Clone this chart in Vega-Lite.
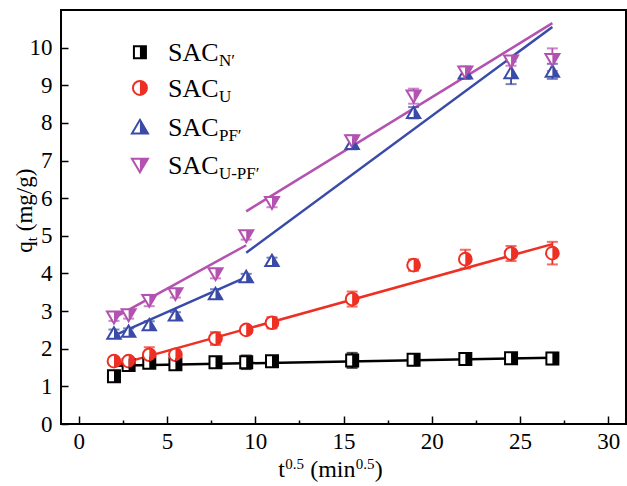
{
  "$schema": "https://vega.github.io/schema/vega-lite/v6.json",
  "width": 565,
  "height": 414,
  "autosize": {"type": "none"},
  "padding": {"left": 61, "top": 10, "right": 1, "bottom": 62},
  "background": "white",
  "config": {
    "view": {"stroke": "black", "strokeWidth": 2},
    "axis": {
      "domain": false,
      "grid": false,
      "labelFont": "Liberation Serif",
      "labelFontSize": 23,
      "labelColor": "black",
      "tickColor": "black",
      "tickWidth": 1.5
    }
  },
  "datasets": {
    "pts": [
      {"s": "N", "x": 2, "q": 1.27, "e": 0.06},
      {"s": "N", "x": 2.83, "q": 1.57, "e": 0.08},
      {"s": "N", "x": 4, "q": 1.63, "e": 0.08},
      {"s": "N", "x": 5.48, "q": 1.59, "e": 0.08},
      {"s": "N", "x": 7.75, "q": 1.64, "e": 0.08},
      {"s": "N", "x": 9.49, "q": 1.64, "e": 0.18},
      {"s": "N", "x": 10.95, "q": 1.67, "e": 0.1},
      {"s": "N", "x": 15.49, "q": 1.69, "e": 0.2},
      {"s": "N", "x": 18.97, "q": 1.71, "e": 0.15},
      {"s": "N", "x": 21.9, "q": 1.73, "e": 0.12},
      {"s": "N", "x": 24.49, "q": 1.75, "e": 0.1},
      {"s": "N", "x": 26.83, "q": 1.74, "e": 0.15},
      {"s": "U", "x": 2, "q": 1.67, "e": 0.1},
      {"s": "U", "x": 2.83, "q": 1.67, "e": 0.08},
      {"s": "U", "x": 4, "q": 1.84, "e": 0.2},
      {"s": "U", "x": 5.48, "q": 1.84, "e": 0.12},
      {"s": "U", "x": 7.75, "q": 2.27, "e": 0.17},
      {"s": "U", "x": 9.49, "q": 2.5, "e": 0.1},
      {"s": "U", "x": 10.95, "q": 2.69, "e": 0.15},
      {"s": "U", "x": 15.49, "q": 3.32, "e": 0.2},
      {"s": "U", "x": 18.97, "q": 4.22, "e": 0.15},
      {"s": "U", "x": 21.9, "q": 4.38, "e": 0.25},
      {"s": "U", "x": 24.49, "q": 4.53, "e": 0.2},
      {"s": "U", "x": 26.83, "q": 4.54, "e": 0.3},
      {"s": "PF", "x": 2, "q": 2.41, "e": 0.1},
      {"s": "PF", "x": 2.83, "q": 2.46, "e": 0.08},
      {"s": "PF", "x": 4, "q": 2.63, "e": 0.1},
      {"s": "PF", "x": 5.48, "q": 2.89, "e": 0.08},
      {"s": "PF", "x": 7.75, "q": 3.46, "e": 0.12},
      {"s": "PF", "x": 9.49, "q": 3.91, "e": 0.08},
      {"s": "PF", "x": 10.95, "q": 4.34, "e": 0.08},
      {"s": "PF", "x": 15.49, "q": 7.45, "e": 0.15},
      {"s": "PF", "x": 18.97, "q": 8.27, "e": 0.15},
      {"s": "PF", "x": 21.9, "q": 9.32, "e": 0.15},
      {"s": "PF", "x": 24.49, "q": 9.33, "e": 0.3},
      {"s": "PF", "x": 26.83, "q": 9.37, "e": 0.2},
      {"s": "UPF", "x": 2, "q": 2.84, "e": 0.1},
      {"s": "UPF", "x": 2.83, "q": 2.9, "e": 0.1},
      {"s": "UPF", "x": 4, "q": 3.28, "e": 0.15},
      {"s": "UPF", "x": 5.48, "q": 3.46, "e": 0.1},
      {"s": "UPF", "x": 7.75, "q": 3.99, "e": 0.12},
      {"s": "UPF", "x": 9.49, "q": 5.0, "e": 0.1},
      {"s": "UPF", "x": 10.95, "q": 5.88, "e": 0.12},
      {"s": "UPF", "x": 15.49, "q": 7.52, "e": 0.15},
      {"s": "UPF", "x": 18.97, "q": 8.71, "e": 0.2},
      {"s": "UPF", "x": 21.9, "q": 9.35, "e": 0.15},
      {"s": "UPF", "x": 24.49, "q": 9.64, "e": 0.12},
      {"s": "UPF", "x": 26.83, "q": 9.68, "e": 0.3}
    ],
    "fits": [
      {"s": "N", "seg": "N1", "x": 2, "q": 1.55},
      {"s": "N", "seg": "N1", "x": 26.83, "q": 1.76},
      {"s": "U", "seg": "U1", "x": 2, "q": 1.55},
      {"s": "U", "seg": "U1", "x": 26.83, "q": 4.78},
      {"s": "PF", "seg": "P1", "x": 2, "q": 2.35},
      {"s": "PF", "seg": "P1", "x": 9.49, "q": 3.9},
      {"s": "PF", "seg": "P2", "x": 9.49, "q": 4.55},
      {"s": "PF", "seg": "P2", "x": 26.83, "q": 10.55},
      {"s": "UPF", "seg": "Q1", "x": 2, "q": 2.82},
      {"s": "UPF", "seg": "Q1", "x": 9.49, "q": 4.75},
      {"s": "UPF", "seg": "Q2", "x": 9.49, "q": 5.65},
      {"s": "UPF", "seg": "Q2", "x": 26.83, "q": 10.65}
    ]
  },
  "resolve": {"scale": {"shape": "independent"}},
  "layer": [
    {
      "data": {"name": "fits"},
      "mark": {"type": "line", "strokeWidth": 2.5},
      "encoding": {
        "x": {
          "field": "x", "type": "quantitative",
          "scale": {"domain": [-1, 31], "nice": false, "zero": false},
          "axis": {
            "title": null,
            "values": [0, 2.5, 5, 7.5, 10, 12.5, 15, 17.5, 20, 22.5, 25, 27.5, 30],
            "labelExpr": "datum.value % 5 === 0 ? datum.label : ''",
            "tickSize": {"condition": {"test": "datum.value % 5 === 0", "value": -8}, "value": -4},
            "labelPadding": 14
          }
        },
        "y": {
          "field": "q", "type": "quantitative",
          "scale": {"domain": [0, 11], "nice": false, "zero": false},
          "axis": {
            "title": null,
            "values": [0, 0.5, 1, 1.5, 2, 2.5, 3, 3.5, 4, 4.5, 5, 5.5, 6, 6.5, 7, 7.5, 8, 8.5, 9, 9.5, 10, 10.5],
            "labelExpr": "datum.value % 1 === 0 ? datum.label : ''",
            "tickSize": {"condition": {"test": "datum.value % 1 === 0", "value": -7}, "value": -4},
            "labelPadding": 16
          }
        },
        "color": {"field": "s", "type": "nominal", "scale": {"domain": ["N", "U", "PF", "UPF"], "range": ["#000000", "#EE3024", "#3A4AA8", "#B352B0"]}, "legend": null},
        "detail": {"field": "seg"}
      }
    },
    {
      "data": {"name": "pts"},
      "mark": {"type": "errorbar", "ticks": {"size": 11, "thickness": 2}, "rule": {"strokeWidth": 1.8}},
      "encoding": {
        "x": {"field": "x", "type": "quantitative"},
        "y": {"field": "q", "type": "quantitative"},
        "yError": {"field": "e"},
        "color": {"field": "s", "type": "nominal", "legend": null}
      }
    },
    {
      "data": {"name": "pts"},
      "mark": {"type": "point", "filled": false, "fill": "white", "opacity": 1, "strokeWidth": 2},
      "encoding": {
        "x": {"field": "x", "type": "quantitative"},
        "y": {"field": "q", "type": "quantitative"},
        "stroke": {"field": "s", "type": "nominal", "scale": {"domain": ["N", "U", "PF", "UPF"], "range": ["#000000", "#EE3024", "#3A4AA8", "#B352B0"]}, "legend": null},
        "shape": {"field": "s", "type": "nominal", "scale": {"domain": ["N", "U", "PF", "UPF"], "range": ["M-1,-1H1V1H-1Z", "M1,0A1,1,0,1,1,-1,0A1,1,0,1,1,1,0Z", "M0,-0.9L1,0.8L-1,0.8Z", "M0,0.9L1,-0.8L-1,-0.8Z"]}, "legend": null},
        "size": {"field": "s", "type": "nominal", "scale": {"domain": ["N", "U", "PF", "UPF"], "range": [144, 196, 256, 256]}, "legend": null}
      }
    },
    {
      "data": {"name": "pts"},
      "mark": {"type": "point", "filled": true, "opacity": 1, "strokeWidth": 0},
      "encoding": {
        "x": {"field": "x", "type": "quantitative"},
        "y": {"field": "q", "type": "quantitative"},
        "color": {"field": "s", "type": "nominal", "legend": null},
        "shape": {"field": "s", "type": "nominal", "scale": {"domain": ["N", "U", "PF", "UPF"], "range": ["M0,-1H1V1H0Z", "M0,-1A1,1,0,0,1,0,1Z", "M0,-0.9L1,0.8L0,0.8Z", "M0,0.9L1,-0.8L0,-0.8Z"]}, "legend": null},
        "size": {"field": "s", "type": "nominal", "legend": null}
      }
    },
    {
      "data": {"values": [{}]},
      "encoding": {"x": {"datum": 3.47, "type": "quantitative"}, "y": {"datum": 9.88, "type": "quantitative"}},
      "layer": [
        {"mark": {"type": "point", "shape": "M-1,-1H1V1H-1Z", "size": 144, "filled": false, "fill": "white", "stroke": "#000000", "strokeWidth": 2, "opacity": 1}},
        {"mark": {"type": "point", "shape": "M0,-1H1V1H0Z", "size": 144, "filled": true, "color": "#000000", "strokeWidth": 0, "opacity": 1}},
        {"mark": {"type": "text", "text": "SAC", "align": "left", "baseline": "alphabetic", "dx": 28, "dy": 9, "font": "Liberation Serif", "fontSize": 26, "color": "black"}},
        {"mark": {"type": "text", "text": "N′", "align": "left", "baseline": "alphabetic", "dx": 79, "dy": 14, "font": "Liberation Serif", "fontSize": 17, "color": "black"}}
      ]
    },
    {
      "data": {"values": [{}]},
      "encoding": {"x": {"datum": 3.47, "type": "quantitative"}, "y": {"datum": 8.93, "type": "quantitative"}},
      "layer": [
        {"mark": {"type": "point", "shape": "M1,0A1,1,0,1,1,-1,0A1,1,0,1,1,1,0Z", "size": 196, "filled": false, "fill": "white", "stroke": "#EE3024", "strokeWidth": 2, "opacity": 1}},
        {"mark": {"type": "point", "shape": "M0,-1A1,1,0,0,1,0,1Z", "size": 196, "filled": true, "color": "#EE3024", "strokeWidth": 0, "opacity": 1}},
        {"mark": {"type": "text", "text": "SAC", "align": "left", "baseline": "alphabetic", "dx": 28, "dy": 9, "font": "Liberation Serif", "fontSize": 26, "color": "black"}},
        {"mark": {"type": "text", "text": "U", "align": "left", "baseline": "alphabetic", "dx": 79, "dy": 14, "font": "Liberation Serif", "fontSize": 17, "color": "black"}}
      ]
    },
    {
      "data": {"values": [{}]},
      "encoding": {"x": {"datum": 3.47, "type": "quantitative"}, "y": {"datum": 7.89, "type": "quantitative"}},
      "layer": [
        {"mark": {"type": "point", "shape": "M0,-0.9L1,0.8L-1,0.8Z", "size": 256, "filled": false, "fill": "white", "stroke": "#3A4AA8", "strokeWidth": 2, "opacity": 1}},
        {"mark": {"type": "point", "shape": "M0,-0.9L1,0.8L0,0.8Z", "size": 256, "filled": true, "color": "#3A4AA8", "strokeWidth": 0, "opacity": 1}},
        {"mark": {"type": "text", "text": "SAC", "align": "left", "baseline": "alphabetic", "dx": 28, "dy": 9, "font": "Liberation Serif", "fontSize": 26, "color": "black"}},
        {"mark": {"type": "text", "text": "PF′", "align": "left", "baseline": "alphabetic", "dx": 79, "dy": 14, "font": "Liberation Serif", "fontSize": 17, "color": "black"}}
      ]
    },
    {
      "data": {"values": [{}]},
      "encoding": {"x": {"datum": 3.47, "type": "quantitative"}, "y": {"datum": 6.88, "type": "quantitative"}},
      "layer": [
        {"mark": {"type": "point", "shape": "M0,0.9L1,-0.8L-1,-0.8Z", "size": 256, "filled": false, "fill": "white", "stroke": "#B352B0", "strokeWidth": 2, "opacity": 1}},
        {"mark": {"type": "point", "shape": "M0,0.9L1,-0.8L0,-0.8Z", "size": 256, "filled": true, "color": "#B352B0", "strokeWidth": 0, "opacity": 1}},
        {"mark": {"type": "text", "text": "SAC", "align": "left", "baseline": "alphabetic", "dx": 28, "dy": 9, "font": "Liberation Serif", "fontSize": 26, "color": "black"}},
        {"mark": {"type": "text", "text": "U-PF′", "align": "left", "baseline": "alphabetic", "dx": 79, "dy": 14, "font": "Liberation Serif", "fontSize": 17, "color": "black"}}
      ]
    },
    {
      "data": {"values": [{}]},
      "encoding": {"x": {"datum": 11.3, "type": "quantitative"}, "y": {"datum": -1.41, "type": "quantitative"}},
      "layer": [
        {"mark": {"type": "text", "text": "t", "align": "left", "baseline": "alphabetic", "font": "Liberation Serif", "fontSize": 24, "color": "black"}},
        {"mark": {"type": "text", "text": "0.5", "align": "left", "baseline": "alphabetic", "dx": 7, "dy": -8, "font": "Liberation Serif", "fontSize": 15, "color": "black"}},
        {"mark": {"type": "text", "text": "(min", "align": "left", "baseline": "alphabetic", "dx": 32, "font": "Liberation Serif", "fontSize": 24, "color": "black"}},
        {"mark": {"type": "text", "text": "0.5", "align": "left", "baseline": "alphabetic", "dx": 77.5, "dy": -8, "font": "Liberation Serif", "fontSize": 15, "color": "black"}},
        {"mark": {"type": "text", "text": ")", "align": "left", "baseline": "alphabetic", "dx": 96.5, "font": "Liberation Serif", "fontSize": 24, "color": "black"}}
      ]
    },
    {
      "data": {"values": [{}]},
      "encoding": {"x": {"datum": -2.64, "type": "quantitative"}, "y": {"datum": 4.55, "type": "quantitative"}},
      "layer": [
        {"mark": {"type": "text", "text": "q", "angle": 270, "align": "left", "baseline": "alphabetic", "font": "Liberation Serif", "fontSize": 23, "color": "black"}},
        {"mark": {"type": "text", "text": "t", "angle": 270, "align": "left", "baseline": "alphabetic", "dx": 11.5, "dy": 5, "font": "Liberation Serif", "fontSize": 15, "color": "black"}},
        {"mark": {"type": "text", "text": "(mg/g)", "angle": 270, "align": "left", "baseline": "alphabetic", "dx": 21.5, "font": "Liberation Serif", "fontSize": 23, "color": "black"}}
      ]
    }
  ]
}
